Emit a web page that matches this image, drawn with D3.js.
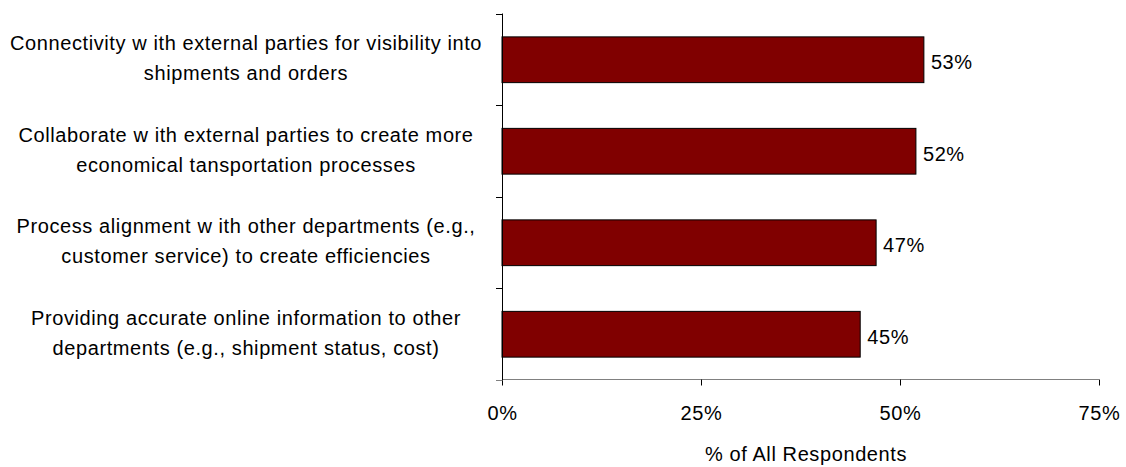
<!DOCTYPE html>
<html><head><meta charset="utf-8">
<script src="https://cdn.jsdelivr.net/npm/d3@7"></script>
<style>body{margin:0;background:#fff}svg{display:block}text{font-family:"Liberation Sans",Arial,sans-serif;fill:#000;letter-spacing:0.6px}</style>
</head><body>
<script>
const categories = [
  ["Connectivity w ith external parties for visibility into", "shipments and orders"],
  ["Collaborate w ith external parties to create more", "economical tansportation processes"],
  ["Process alignment w ith other departments (e.g.,", "customer service) to create efficiencies"],
  ["Providing accurate online information to other", "departments (e.g., shipment status, cost)"]
];
const values = [53, 52, 47, 45];
const tickValues = [0, 25, 50, 75];
const axisTitle = "% of All Respondents";

const W = 1126, H = 467;
const FONT = '"Liberation Sans",Arial,sans-serif';
const svg = d3.select("body").append("svg").attr("width", W).attr("height", H);
const x = d3.scaleLinear().domain([0, 75]).range([502, 1099]);
const y = d3.scaleBand().domain(d3.range(categories.length)).range([13.5, 379.5]).paddingInner(0.5).paddingOuter(0.25);
const yTicks = d3.scaleLinear().domain([0, categories.length]).range([13.5, 379.5]);

// bars
svg.selectAll("rect.bar").data(values).enter().append("rect")
  .attr("x", x(0)).attr("y", (d,i)=>y(i)+0.5)
  .attr("width", d=>x(d)-x(0)).attr("height", y.bandwidth())
  .attr("fill", "#800000").attr("stroke", "#000").attr("stroke-width", 1);

// x axis
const xAxis = svg.append("g").attr("transform", "translate(0,379.5)")
  .call(d3.axisBottom(x).tickValues(tickValues).tickFormat(d=>d+"%").tickSize(6).tickPadding(22));
xAxis.select(".domain").attr("stroke", "#808080").attr("d", `M${x(0)},0H${x(75)}`);
xAxis.selectAll(".tick line").attr("stroke", "#000");
xAxis.selectAll(".tick text").attr("font-size", 20).attr("font-family", FONT).attr("dy", null).attr("y", 40.5);

// y axis
svg.append("line").attr("x1", 502.5).attr("x2", 502.5).attr("y1", 13.5).attr("y2", 385).attr("stroke", "#000");
svg.selectAll("line.ytick").data(d3.range(categories.length+1)).enter().append("line")
  .attr("x1", 496).attr("x2", 502.5).attr("y1", d=>Math.round(yTicks(d))+0.5).attr("y2", d=>Math.round(yTicks(d))+0.5)
  .attr("stroke", d=> d===categories.length ? "#808080" : "#000");

// category labels
const lab = svg.selectAll("text.cat").data(categories).enter().append("text")
  .attr("text-anchor", "middle").attr("font-size", 20)
  .attr("transform", (d,i)=>`translate(246,${y(i)+y.bandwidth()/2})`);
lab.selectAll("tspan").data(d=>d).enter().append("tspan")
  .attr("x", 0).attr("y", (d,j)=> j===0 ? -9 : 21).text(d=>d);

// value labels
svg.selectAll("text.val").data(values).enter().append("text")
  .attr("x", d=>x(d)+7).attr("y", (d,i)=>y(i)+y.bandwidth()/2+10)
  .attr("font-size", 20).text(d=>d+"%");

// axis title
svg.append("text").attr("x", 806).attr("y", 461).attr("text-anchor", "middle").attr("font-size", 20).text(axisTitle);
</script>
</body></html>
